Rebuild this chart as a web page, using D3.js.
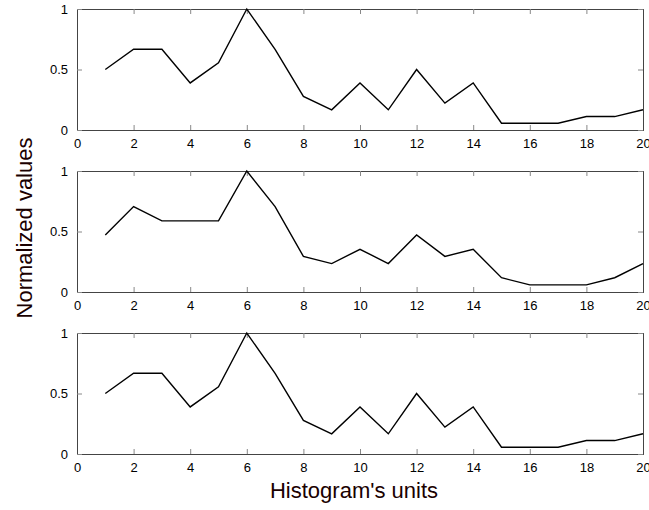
<!DOCTYPE html>
<html>
<head>
<meta charset="utf-8">
<script src="https://cdn.jsdelivr.net/npm/d3@7"></script>
<style>
  body { margin: 0; background: #fff; }
  text { font-family: "Liberation Sans", Arial, sans-serif; }
</style>
</head>
<body>
<svg id="chart" width="649" height="510"></svg>
<script>
// histogram bins 1..20
var units = d3.range(1, 21);

// normalized histograms, one per panel
var topValues = [0.5, 0.667, 0.667, 0.389, 0.556, 1, 0.667, 0.278, 0.167, 0.389,
  0.167, 0.5, 0.222, 0.389, 0.056, 0.056, 0.056, 0.111, 0.111, 0.167];
var middleValues = [0.471, 0.706, 0.588, 0.588, 0.588, 1, 0.706, 0.294, 0.235, 0.353,
  0.235, 0.471, 0.294, 0.353, 0.118, 0.059, 0.059, 0.059, 0.118, 0.235];
var bottomValues = [0.5, 0.667, 0.667, 0.389, 0.556, 1, 0.667, 0.278, 0.167, 0.389,
  0.167, 0.5, 0.222, 0.389, 0.056, 0.056, 0.056, 0.111, 0.111, 0.167];

var xTicks = d3.range(0, 21, 2);
var yTicks = [0, 0.5, 1];

var panels = [
  { values: topValues, top: 9 },
  { values: middleValues, top: 171 },
  { values: bottomValues, top: 333 }
];

var left = 77, right = 643, panelHeight = 121;

var svg = d3.select("#chart");

var x = d3.scaleLinear().domain([0, 20]).range([left, right]);

panels.forEach(function (p) {
  var y = d3.scaleLinear().domain([0, 1]).range([p.top + panelHeight, p.top]);
  var g = svg.append("g");

  // bottom axis, ticks point inward
  g.append("g")
    .attr("transform", "translate(0," + (p.top + panelHeight) + ")")
    .call(d3.axisBottom(x).tickValues(xTicks).tickSize(-5).tickPadding(9).tickFormat(d3.format("d")));
  // top mirror
  g.append("g")
    .attr("transform", "translate(0," + p.top + ")")
    .call(d3.axisTop(x).tickValues(xTicks).tickSize(-5).tickFormat(""));
  // left axis
  g.append("g")
    .attr("transform", "translate(" + left + ",0)")
    .call(d3.axisLeft(y).tickValues(yTicks).tickSize(-5).tickPadding(9).tickFormat(d => d === 0.5 ? "0.5" : d));
  // right mirror
  g.append("g")
    .attr("transform", "translate(" + right + ",0)")
    .call(d3.axisRight(y).tickValues(yTicks).tickSize(-5).tickFormat(""));

  g.selectAll(".domain").attr("stroke", "#444").attr("stroke-width", 1);
  g.selectAll(".tick line").attr("stroke", "#888");
  g.selectAll(".tick text").attr("fill", "#000").style("font-size", "13px");

  var line = d3.line()
    .x((d, i) => x(units[i]))
    .y(d => y(d));

  g.append("path")
    .datum(p.values)
    .attr("d", line)
    .attr("fill", "none")
    .attr("stroke", "#000")
    .attr("stroke-width", 1.4);
});

svg.append("text")
  .attr("x", 354)
  .attr("y", 498)
  .attr("text-anchor", "middle")
  .style("font-size", "22px")
  .attr("fill", "#1a0000")
  .text("Histogram's units");

svg.append("text")
  .attr("transform", "translate(32,228) rotate(-90)")
  .attr("text-anchor", "middle")
  .style("font-size", "22px")
  .attr("fill", "#1a0000")
  .text("Normalized values");
</script>
</body>
</html>
